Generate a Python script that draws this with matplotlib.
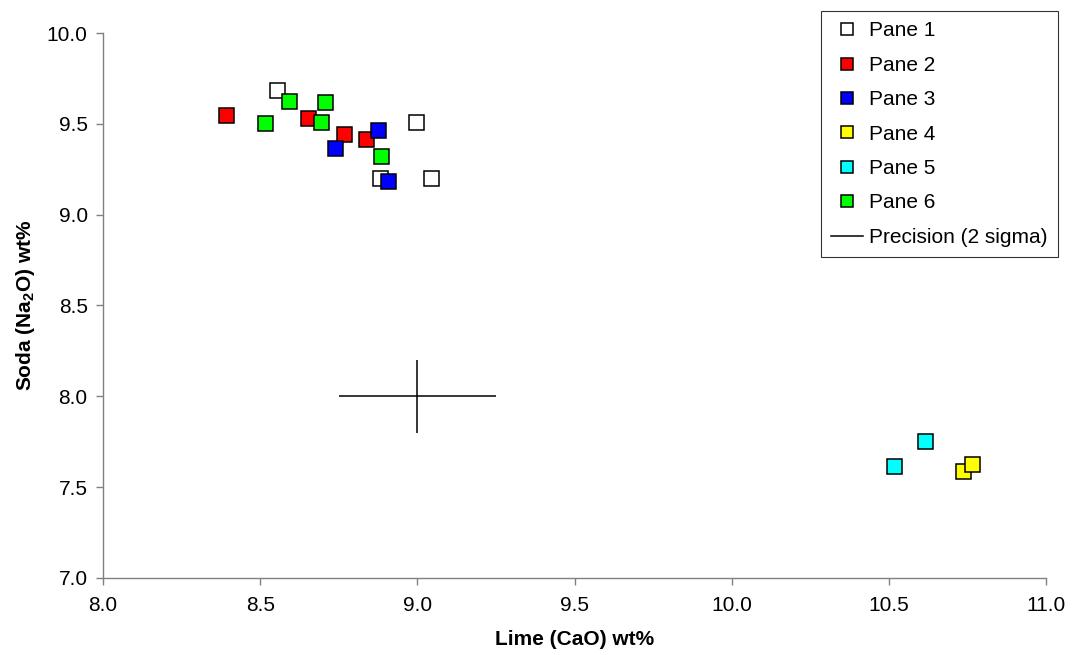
import matplotlib
matplotlib.use("Agg")
import matplotlib.pyplot as plt

plt.rcParams['font.family'] = ['Liberation Sans', 'DejaVu Sans']
plt.rcParams['mathtext.fontset'] = 'custom'
plt.rcParams['mathtext.rm'] = 'Liberation Sans:bold'
plt.rcParams['mathtext.bf'] = 'Liberation Sans:bold'

pane1_x = [8.552, 8.997, 8.882, 9.042]
pane1_y = [9.686, 9.512, 9.204, 9.204]
pane2_x = [8.391, 8.652, 8.765, 8.835]
pane2_y = [9.547, 9.534, 9.444, 9.415]
pane3_x = [8.737, 8.874, 8.908]
pane3_y = [9.365, 9.464, 9.187]
pane4_x = [10.735, 10.764]
pane4_y = [7.589, 7.626]
pane5_x = [10.516, 10.615]
pane5_y = [7.619, 7.756]
pane6_x = [8.516, 8.593, 8.705, 8.693, 8.885]
pane6_y = [9.507, 9.627, 9.622, 9.510, 9.321]
prec_x, prec_y = 9.0, 8.0
prec_xerr, prec_yerr = 0.25, 0.2

series = [
    ("Pane 1", pane1_x, pane1_y, "#FFFFFF"),
    ("Pane 2", pane2_x, pane2_y, "#FF0000"),
    ("Pane 3", pane3_x, pane3_y, "#0000FF"),
    ("Pane 4", pane4_x, pane4_y, "#FFFF00"),
    ("Pane 5", pane5_x, pane5_y, "#00FFFF"),
    ("Pane 6", pane6_x, pane6_y, "#00FF00"),
]

fig = plt.figure(figsize=(10.73, 6.55), dpi=100)
ax = fig.add_axes([0.096, 0.1176, 0.879, 0.832])

handles = []
for name, xs, ys, c in series:
    h, = ax.plot(xs, ys, linestyle='none', marker='s', markersize=10.8,
                 markerfacecolor=c, markeredgecolor='black', markeredgewidth=1.1,
                 label=name, zorder=3)
    handles.append(h)

ax.errorbar([prec_x], [prec_y], xerr=[prec_xerr], yerr=[prec_yerr], fmt='none',
            ecolor='black', elinewidth=1.1, capsize=0, zorder=2)
ph, = ax.plot([], [], color='black', linewidth=1.1, label='Precision (2 sigma)')
handles.append(ph)

ax.set_xlim(8.0, 11.0)
ax.set_ylim(7.0, 10.0)
ax.set_xticks([8.0, 8.5, 9.0, 9.5, 10.0, 10.5, 11.0])
ax.set_yticks([7.0, 7.5, 8.0, 8.5, 9.0, 9.5, 10.0])
ax.set_xticklabels([f"{v:.1f}" for v in ax.get_xticks()])
ax.set_yticklabels([f"{v:.1f}" for v in ax.get_yticks()])

for s in ['top', 'right']:
    ax.spines[s].set_visible(False)
for s in ['left', 'bottom']:
    ax.spines[s].set_color('#808080')
    ax.spines[s].set_linewidth(1.0)
ax.tick_params(direction='out', length=5, width=1.0, color='#808080',
               labelsize=15, pad=6)
ax.tick_params(axis='x', pad=8)

ax.set_xlabel('Lime (CaO) wt%', fontsize=15, fontweight='bold', labelpad=11)
ax.set_ylabel(r'Soda (Na$_{\mathbf{2}}$O) wt%', fontsize=15, fontweight='bold', labelpad=7)

leg = fig.legend(handles=handles, loc='upper left',
                 bbox_to_anchor=(821 / 1073, 1 - 11 / 655),
                 frameon=True, fancybox=False, fontsize=15, markerscale=0.8,
                 labelspacing=0.74, handlelength=1.5, handletextpad=0.3,
                 borderpad=0.5, borderaxespad=0)
leg.get_frame().set_edgecolor('black')
leg.get_frame().set_linewidth(0.8)

fig.savefig('out.png', dpi=100)
